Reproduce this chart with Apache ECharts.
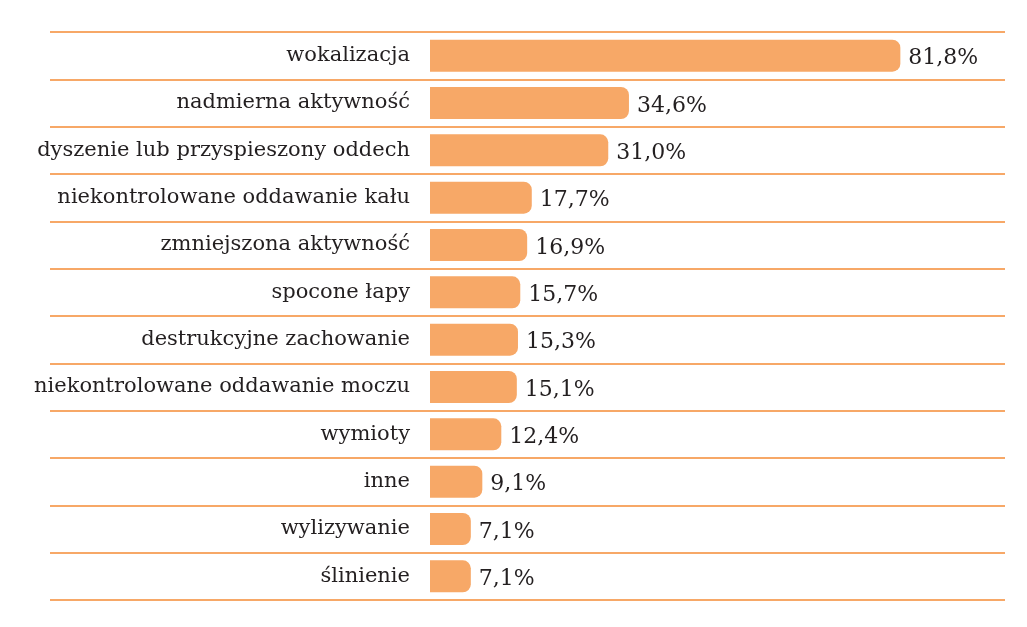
<!DOCTYPE html>
<html>
<head>
<meta charset="utf-8">
<script src="https://cdn.jsdelivr.net/npm/echarts@6/dist/echarts.min.js"></script>
<style>
html,body{margin:0;padding:0;background:#fff;}
#chart{width:1027px;height:627px;}
</style>
</head>
<body>
<div id="chart"></div>
<script>
const categories = [
  'wokalizacja',
  'nadmierna aktywność',
  'dyszenie lub przyspieszony oddech',
  'niekontrolowane oddawanie kału',
  'zmniejszona aktywność',
  'spocone łapy',
  'destrukcyjne zachowanie',
  'niekontrolowane oddawanie moczu',
  'wymioty',
  'inne',
  'wylizywanie',
  'ślinienie'
];
const values = [81.8, 34.6, 31.0, 17.7, 16.9, 15.7, 15.3, 15.1, 12.4, 9.1, 7.1, 7.1];

const FONT = '"DejaVu Serif", serif';
const ORANGE = '#F7A867';
const TEXT = '#231F20';

const chart = echarts.init(document.getElementById('chart'));
chart.setOption({
  animation: false,
  grid: [
    {left: 50, right: 22, top: 32, bottom: 27},
    {left: 430, right: 22, top: 32, bottom: 27}
  ],
  xAxis: [
    {gridIndex: 0, type: 'value', min: 0, max: 100, show: false},
    {gridIndex: 1, type: 'value', min: 0, max: 100, show: false}
  ],
  yAxis: [
    {
      gridIndex: 0, type: 'category', data: categories, inverse: true,
      axisLine: {show: false}, axisTick: {show: false}, axisLabel: {show: false},
      splitLine: {show: true, interval: 0, lineStyle: {color: ORANGE, width: 2}}
    },
    {
      gridIndex: 1, type: 'category', data: categories, inverse: true,
      axisLine: {show: false}, axisTick: {show: false},
      splitLine: {show: false},
      axisLabel: {margin: 20, fontFamily: FONT, fontSize: 21, color: TEXT, interval: 0}
    }
  ],
  series: [
    {
      type: 'bar', xAxisIndex: 1, yAxisIndex: 1, data: values,
      barWidth: 32,
      itemStyle: {color: ORANGE, borderRadius: [0, 8, 8, 0]},
      label: {
        show: true, position: 'right', distance: 8, offset: [0, 3],
        fontFamily: FONT, fontSize: 22, color: TEXT,
        formatter: p => p.value.toFixed(1).replace('.', ',') + '%'
      }
    }
  ]
});
</script>
</body>
</html>
